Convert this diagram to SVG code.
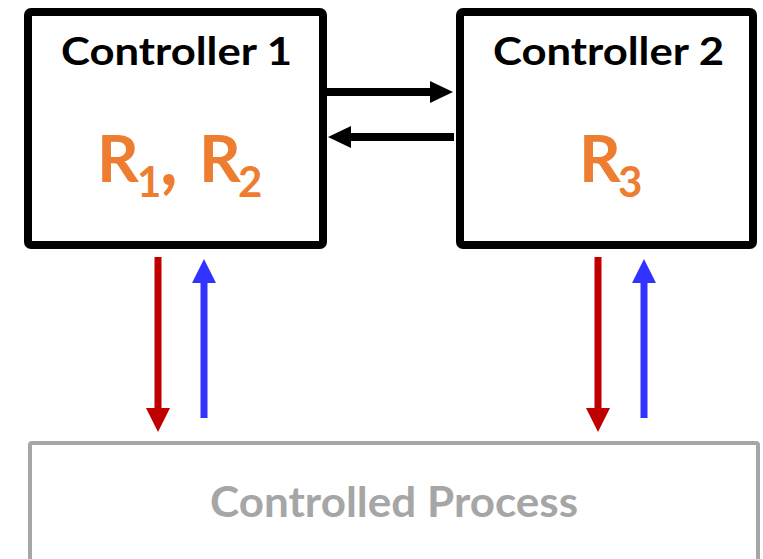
<svg xmlns="http://www.w3.org/2000/svg" width="763" height="559" viewBox="0 0 763 559">
<style>
.box{fill:#fff;stroke:#000;stroke-width:8}
.proc{fill:#fff;stroke:#a6a6a6;stroke-width:4}
.title{font-family:Lato,"Open Sans",sans-serif;font-weight:bold;font-size:39px;fill:#000}
.r{font-family:Lato,"Open Sans",sans-serif;font-weight:bold;font-size:65px;fill:#ED7D31}
.sub{font-size:42px}
.ptext{font-family:Lato,"Open Sans",sans-serif;font-weight:bold;font-size:42px;fill:#a6a6a6}
.bk{stroke:#000;stroke-width:8;fill:none}
.rd{stroke:#C00000;stroke-width:7;fill:none}
.bl{stroke:#3333FF;stroke-width:7;fill:none}
</style>
<defs>
<marker id="hk" markerUnits="userSpaceOnUse" markerWidth="24" markerHeight="24" viewBox="0 0 24 24" refX="1" refY="12" orient="auto"><path d="M0,1 L23,12 L0,23 z" fill="#000"/></marker>
<marker id="hr" markerUnits="userSpaceOnUse" markerWidth="25" markerHeight="25" viewBox="0 0 25 25" refX="1" refY="12.5" orient="auto"><path d="M0,0.5 L24,12.5 L0,24.5 z" fill="#C00000"/></marker>
<marker id="hb" markerUnits="userSpaceOnUse" markerWidth="25" markerHeight="25" viewBox="0 0 25 25" refX="1" refY="12.5" orient="auto"><path d="M0,0.5 L24,12.5 L0,24.5 z" fill="#3333FF"/></marker>
</defs>
<g id="controller1">
<rect class="box" x="28" y="12" width="295" height="233" rx="3"/>
<text class="title" x="61" y="65" textLength="231" lengthAdjust="spacingAndGlyphs">Controller 1</text>
<text class="r" y="182"><tspan x="97">R</tspan><tspan class="sub" x="137" y="197">1</tspan><tspan x="160" y="185" font-size="76">,</tspan><tspan x="199" y="182">R</tspan><tspan class="sub" x="238" y="197">2</tspan></text>
</g>
<g id="controller2">
<rect class="box" x="460" y="12" width="293" height="233" rx="3"/>
<text class="title" x="493" y="65" textLength="231" lengthAdjust="spacingAndGlyphs">Controller 2</text>
<text class="r" y="182"><tspan x="579">R</tspan><tspan class="sub" x="618" y="197">3</tspan></text>
</g>
<g id="process">
<rect class="proc" x="30" y="443" width="728" height="140" rx="2"/>
<text class="ptext" x="210" y="517" textLength="368" lengthAdjust="spacingAndGlyphs">Controlled Process</text>
</g>
<g id="connectors">
<line class="bk" x1="327" y1="92" x2="431" y2="92" marker-end="url(#hk)"/>
<line class="bk" x1="454" y1="137" x2="350" y2="137" marker-end="url(#hk)"/>
<line class="rd" x1="158" y1="257" x2="158" y2="409" marker-end="url(#hr)"/>
<line class="bl" x1="204" y1="418" x2="204" y2="282" marker-end="url(#hb)"/>
<line class="rd" x1="598" y1="257" x2="598" y2="409" marker-end="url(#hr)"/>
<line class="bl" x1="644" y1="418" x2="644" y2="282" marker-end="url(#hb)"/>
</g>
</svg>
